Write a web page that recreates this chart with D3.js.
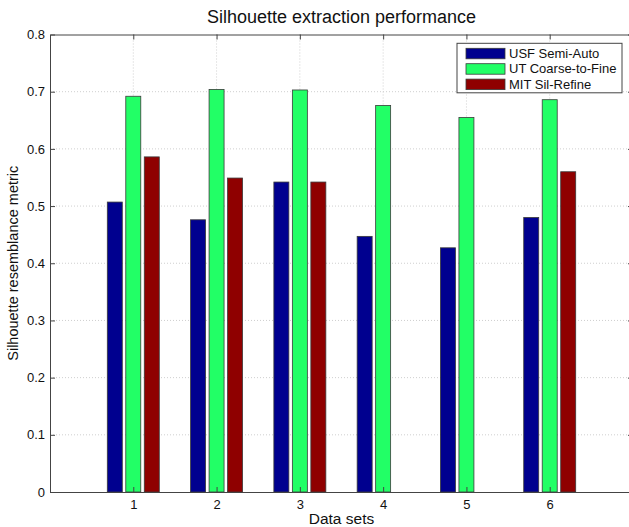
<!DOCTYPE html>
<html>
<head>
<meta charset="utf-8">
<script src="https://cdn.jsdelivr.net/npm/d3@7"></script>
<style>
  body { margin: 0; background: #fff; }
  text { font-family: "Liberation Sans", Arial, sans-serif; fill: #111; }
</style>
</head>
<body>
<div id="chart"></div>
<script>
// data
var dataSets = [1, 2, 3, 4, 5, 6];
var seriesNames = ["USF Semi-Auto", "UT Coarse-to-Fine", "MIT Sil-Refine"];
var usfValues = [0.507, 0.476, 0.542, 0.447, 0.427, 0.480];
var utValues = [0.692, 0.704, 0.703, 0.676, 0.655, 0.686];
var mitValues = [0.586, 0.549, 0.542, 0, 0, 0.560];
var yTicks = [0, 0.1, 0.2, 0.3, 0.4, 0.5, 0.6, 0.7, 0.8];

var colors = ["#00008f", "#22ff66", "#8f0000"];

var W = 629, H = 527;
var margin = { top: 34.5, left: 50, right: -4, bottom: 35 };
var width = W - margin.left - margin.right,
    height = H - margin.top - margin.bottom;

var svg = d3.select("#chart")
    .append("svg")
    .attr("width", W)
    .attr("height", H)
    .append("g")
    .attr("transform", "translate(" + margin.left + "," + margin.top + ")");

var x = d3.scaleLinear().domain([0, 7]).range([0, width]);
var y = d3.scaleLinear().domain([0, 0.8]).range([height, 0]);

// grid (dotted)
svg.append("g")
    .selectAll("line.gy")
    .data(yTicks.slice(1, -1))
    .enter().append("line")
    .attr("x1", 0).attr("x2", width)
    .attr("y1", function (d) { return y(d); })
    .attr("y2", function (d) { return y(d); })
    .attr("stroke", "#cfcfcf")
    .attr("stroke-dasharray", "1,2");
svg.append("g")
    .selectAll("line.gx")
    .data(dataSets)
    .enter().append("line")
    .attr("y1", 0).attr("y2", height)
    .attr("x1", function (d) { return x(d); })
    .attr("x2", function (d) { return x(d); })
    .attr("stroke", "#cfcfcf")
    .attr("stroke-dasharray", "1,2");

// bars
var series = [usfValues, utValues, mitValues];
var offsets = [-0.222, 0, 0.222];
var barW = x(0.18) - x(0);
series.forEach(function (vals, s) {
    var pts = vals.map(function (v, i) { return { set: dataSets[i], value: v }; })
        .filter(function (d) { return d.value > 0; });
    svg.append("g")
        .selectAll("rect")
        .data(pts)
        .enter().append("rect")
        .attr("x", function (d) { return x(d.set + offsets[s]) - barW / 2; })
        .attr("width", barW)
        .attr("y", function (d) { return y(d.value); })
        .attr("height", function (d) { return height - y(d.value); })
        .attr("fill", colors[s])
        .attr("stroke", "#3a3a3a")
        .attr("stroke-width", 0.8);
});

// axes, ticks pointing inward like matlab
function styleAxis(g) {
    g.selectAll("path, line").attr("stroke", "#444");
    g.selectAll("text").style("font-size", "13px").attr("fill", "#111");
}
var fmt = function (d) { return d === 0 ? "0" : d3.format(".1f")(d); };

svg.append("g")
    .attr("transform", "translate(0," + height + ")")
    .call(d3.axisBottom(x).tickValues(dataSets).tickFormat(d3.format("d")).tickSize(-5).tickSizeOuter(0).tickPadding(8))
    .call(styleAxis);
svg.append("g")
    .call(d3.axisTop(x).tickValues(dataSets).tickSize(-5).tickSizeOuter(0).tickFormat(""))
    .call(styleAxis);
svg.append("g")
    .call(d3.axisLeft(y).tickValues(yTicks).tickFormat(fmt).tickSize(-5).tickSizeOuter(0).tickPadding(5))
    .call(styleAxis);
svg.append("g")
    .attr("transform", "translate(" + width + ",0)")
    .call(d3.axisRight(y).tickValues(yTicks).tickSize(-5).tickSizeOuter(0).tickFormat(""))
    .call(styleAxis);

// title and labels
svg.append("text")
    .attr("x", width / 2)
    .attr("y", -12)
    .attr("text-anchor", "middle")
    .style("font-size", "18px")
    .text("Silhouette extraction performance");

svg.append("text")
    .attr("x", width / 2)
    .attr("y", height + 32)
    .attr("text-anchor", "middle")
    .style("font-size", "15.5px")
    .text("Data sets");

svg.append("text")
    .attr("transform", "rotate(-90)")
    .attr("x", -height / 2)
    .attr("y", -32)
    .attr("text-anchor", "middle")
    .style("font-size", "14.5px")
    .text("Silhouette resemblance metric");

// legend
var lx = 457 - margin.left, ly = 43.3 - margin.top;
var legend = svg.append("g").attr("transform", "translate(" + lx + "," + ly + ")");
legend.append("rect")
    .attr("width", 165)
    .attr("height", 49.5)
    .attr("fill", "#fff")
    .attr("stroke", "#444");
seriesNames.forEach(function (name, i) {
    legend.append("rect")
        .attr("x", 9)
        .attr("y", 5 + i * 15.4)
        .attr("width", 39)
        .attr("height", 10.5)
        .attr("fill", colors[i])
        .attr("stroke", "#3a3a3a")
        .attr("stroke-width", 0.8);
    legend.append("text")
        .attr("x", 52)
        .attr("y", 14.5 + i * 15.4)
        .style("font-size", "13px")
        .text(name);
});
</script>
</body>
</html>
